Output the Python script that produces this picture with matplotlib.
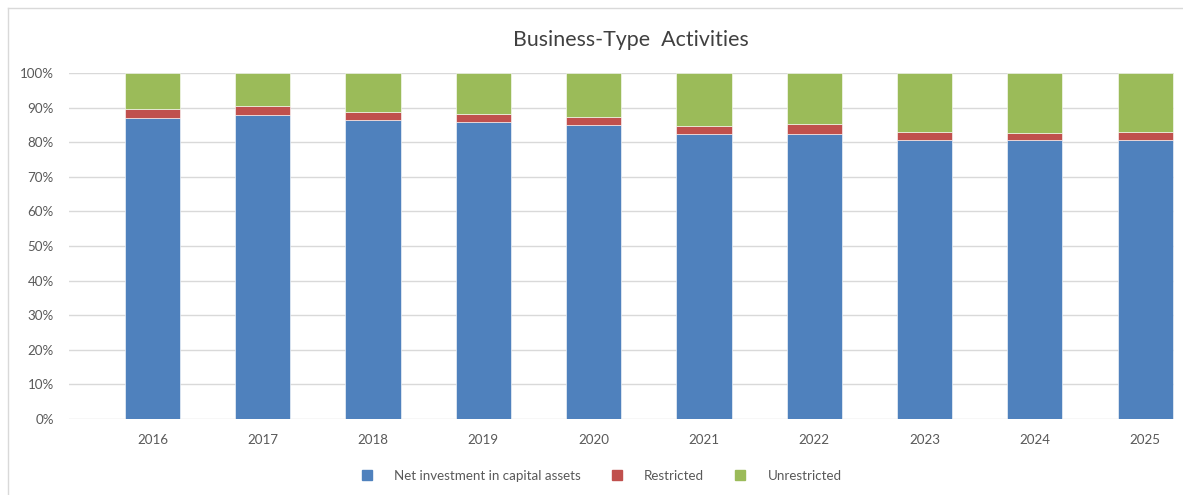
import matplotlib.pyplot as plt
from matplotlib.lines import Line2D
from matplotlib.ticker import PercentFormatter

years = ['2016', '2017', '2018', '2019', '2020', '2021', '2022', '2023', '2024', '2025']
net_investment = [86.9, 87.9, 86.3, 85.7, 84.9, 82.5, 82.5, 80.5, 80.5, 80.5]
restricted = [2.7, 2.7, 2.4, 2.5, 2.3, 2.3, 2.7, 2.5, 2.2, 2.5]
unrestricted = [10.4, 9.4, 11.3, 11.8, 12.8, 15.2, 14.8, 17.0, 17.3, 17.0]

labels = ['Net investment in capital assets', 'Restricted', 'Unrestricted']
colors = ['#4F81BD', '#C0504D', '#9BBB59']

plt.rcParams['font.family'] = ['Lato', 'DejaVu Sans']

W, H = 1183, 495
fig = plt.figure(figsize=(W / 100, H / 100), dpi=100)

# plot area in pixels: left 69, right 1174, top 73, bottom 419
ax = fig.add_axes([69 / W, 1 - 419 / H, (1174 - 69) / W, (419 - 73) / H])

x = range(len(years))
bottom = [0] * len(years)
for vals, col in zip([net_investment, restricted, unrestricted], colors):
    ax.bar(x, vals, width=0.5, bottom=bottom, color=col,
           edgecolor='white', linewidth=0.4, zorder=3)
    bottom = [b + v for b, v in zip(bottom, vals)]

ax.set_ylim(0, 100)
ax.set_xlim(-0.757, 9.262)
ax.set_yticks(range(0, 101, 10))
ax.yaxis.set_major_formatter(PercentFormatter(decimals=0))
ax.set_xticks(list(x))
ax.set_xticklabels(years)
ax.grid(axis='y', color='#d9d9d9', linewidth=1, zorder=0)
for s in ax.spines.values():
    s.set_visible(False)
ax.tick_params(length=0, labelsize=9.6, labelcolor='#595959')
ax.tick_params(axis='y', pad=11)
ax.tick_params(axis='x', pad=11)

fig.text(631 / W, 1 - 40 / H, 'Business-Type  Activities', ha='center', va='center',
         fontsize=15.4, color='#404040')

handles = [Line2D([], [], marker='s', linestyle='none', markersize=6.5,
                  markerfacecolor=c, markeredgecolor=c) for c in colors]
fig.legend(handles, labels, loc='center', bbox_to_anchor=(601 / W, 1 - 476 / H),
           ncol=3, frameon=False, fontsize=9.6, labelcolor='#595959',
           handlelength=1.0, handletextpad=1.55, columnspacing=2.2)

# chart border (left and top visible)
fig.add_artist(Line2D([7.5 / W, 7.5 / W], [0, 1 - 8 / H], color='#d9d9d9', linewidth=1))
fig.add_artist(Line2D([7.5 / W, 1], [1 - 8 / H, 1 - 8 / H], color='#d9d9d9', linewidth=1))

fig.savefig('out.png', dpi=100)
